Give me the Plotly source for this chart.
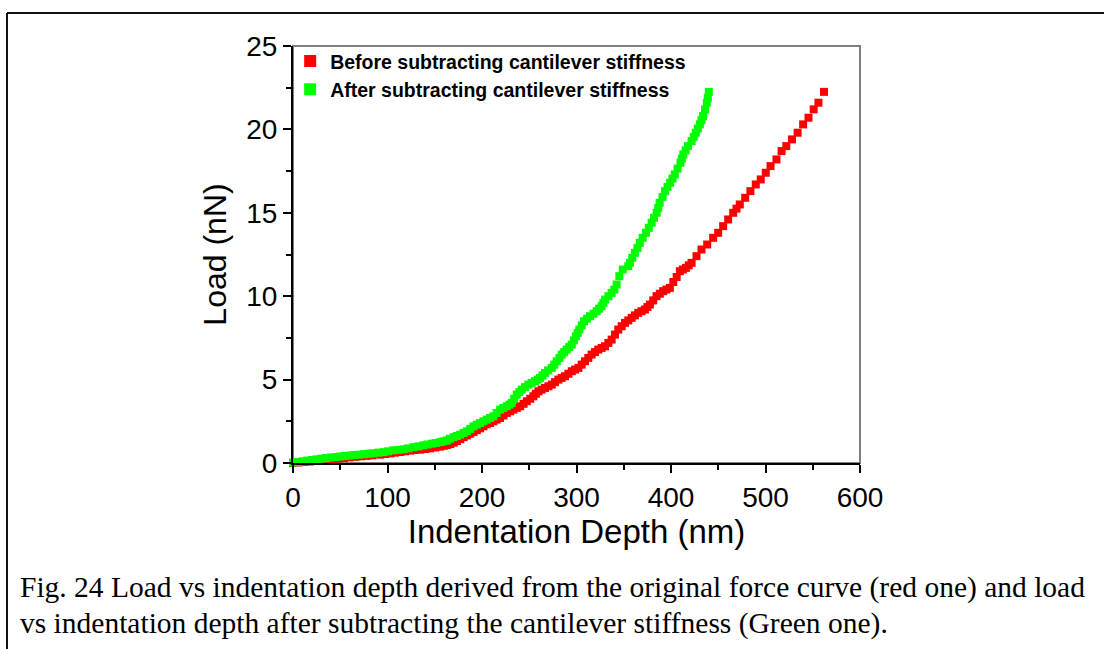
import plotly.graph_objects as go

# ---- data ----
before_x = [0, 6, 12, 18, 24, 30, 36, 42, 48, 54, 60, 66, 72, 78, 84, 92.3, 97.5, 103, 108, 113.4,
            118.5, 124, 129, 134.6, 140, 145, 150.5, 155.7, 159.5, 163, 166.5, 170, 173.5, 177, 180.5,
            184, 187.5, 191, 194.5, 198, 201.5, 205, 208.5, 212, 215.5, 219.1, 222.7, 226.3, 229.8,
            233.3, 236.8, 240.4, 244, 247.4, 251, 254.4, 257, 259.7, 263.2, 266.7, 270.3, 273.9, 277.3,
            280.8, 284.3, 287.8, 291.4, 295, 298.5, 302, 305.5, 309, 312.5, 316, 319.5, 323, 326.6,
            330.2, 333.7, 337.2, 340.7, 344.2, 347.8, 351.3, 354.8, 358.4, 361.8, 365.3, 368.8, 372.4,
            375, 377.7, 381.2, 384.7, 388.2, 391.7, 395.2, 398.8, 402.4, 406, 409.4, 412.6, 415.8, 418.8,
            421.8, 427, 432.3, 438.3, 444.6, 449.9, 455.2, 460.5, 465.8, 469.3, 472.8, 478.5, 484,
            489.7, 495, 500.3, 505.3, 511.6, 517, 522, 528, 534, 539.8, 545.5, 551, 556, 561.9]
before_y = [0.0, 0.03, 0.06, 0.09, 0.12, 0.15, 0.18, 0.22, 0.26, 0.3, 0.34, 0.37, 0.4, 0.43, 0.46, 0.5,
            0.54, 0.58, 0.62, 0.66, 0.7, 0.74, 0.78, 0.8, 0.84, 0.88, 0.93, 0.98, 1.03, 1.08, 1.14, 1.22,
            1.32, 1.43, 1.55, 1.65, 1.75, 1.86, 1.97, 2.08, 2.2, 2.32, 2.4, 2.5, 2.6, 2.7, 2.85, 3.0,
            3.1, 3.2, 3.3, 3.4, 3.55, 3.7, 3.85, 4.0, 4.15, 4.3, 4.4, 4.5, 4.6, 4.7, 4.85, 5.0, 5.1,
            5.2, 5.35, 5.5, 5.6, 5.7, 5.9, 6.1, 6.3, 6.5, 6.65, 6.8, 6.9, 7.0, 7.2, 7.4, 7.7, 8.0, 8.2,
            8.4, 8.55, 8.7, 8.85, 9.0, 9.1, 9.2, 9.35, 9.5, 9.75, 10.0, 10.15, 10.3, 10.4, 10.5, 10.85,
            11.15, 11.5, 11.6, 11.7, 11.85, 12.0, 12.4, 12.8, 13.1, 13.5, 13.8, 14.2, 14.6, 15.0, 15.25,
            15.5, 15.9, 16.3, 16.7, 17.0, 17.4, 17.8, 18.2, 18.7, 19.0, 19.4, 19.8, 20.3, 20.7, 21.2,
            21.6, 22.25]

after_x = [0, 5, 10, 15, 20, 25, 30, 35, 40, 45, 50, 55, 60, 65, 70, 75, 80, 85, 90, 95.8, 100.5,
           106.3, 111.5, 117, 122, 127.5, 133, 138, 142.5, 147, 151, 155.7, 159, 162.8, 166, 170,
           173.5, 176.9, 180.5, 184, 187.5, 191, 194.5, 198, 201.5, 205, 208.5, 212, 215.5, 219.2,
           222.5, 226.2, 229, 231.5, 234, 236.8, 239.5, 242.1, 245.5, 249.1, 252.5, 256.1, 259, 261.4,
           264, 266.7, 270, 273.8, 276.5, 279.1, 282, 284.4, 287, 289.6, 292.3, 295, 297.3, 299.5,
           301.3, 303, 305.5, 308, 311, 314.3, 318, 321.4, 324, 326.6, 328.4, 330.2, 333.7, 337.2, 340,
           342.5, 345.3, 349, 354.8, 356.6, 359, 361.8, 364.5, 367, 370, 373.5, 376.5, 379.5, 382,
           384.8, 386.5, 388, 391, 393.6, 396.3, 399, 401.5, 404, 407, 410, 411.5, 413, 415.5, 418,
           421.8, 424, 426.3, 428.4, 430.5, 432.2, 434, 436, 437.9, 439, 440]
after_y = [0.02, 0.06, 0.1, 0.14, 0.18, 0.22, 0.26, 0.29, 0.33, 0.36, 0.39, 0.42, 0.45, 0.48, 0.5,
           0.53, 0.56, 0.58, 0.62, 0.65, 0.7, 0.76, 0.79, 0.82, 0.88, 0.95, 1.0, 1.06, 1.11, 1.16, 1.2,
           1.25, 1.3, 1.35, 1.45, 1.55, 1.62, 1.7, 1.8, 1.9, 2.05, 2.2, 2.3, 2.4, 2.5, 2.6, 2.7, 2.8,
           3.0, 3.2, 3.3, 3.4, 3.5, 3.6, 3.85, 4.1, 4.25, 4.4, 4.55, 4.7, 4.8, 4.9, 5.0, 5.1, 5.25, 5.4,
           5.55, 5.7, 5.9, 6.1, 6.3, 6.5, 6.65, 6.8, 6.95, 7.1, 7.35, 7.6, 7.8, 8.0, 8.25, 8.5, 8.65,
           8.8, 8.95, 9.1, 9.25, 9.4, 9.6, 9.8, 10.0, 10.2, 10.4, 10.7, 11.2, 11.6, 11.8, 12.0, 12.3,
           12.6, 12.9, 13.2, 13.5, 13.8, 14.1, 14.4, 14.7, 15.0, 15.3, 15.6, 15.95, 16.3, 16.55, 16.8,
           17.05, 17.3, 17.65, 18.0, 18.25, 18.5, 18.75, 19.0, 19.3, 19.55, 19.8, 20.05, 20.3, 20.55,
           20.8, 21.2, 21.6, 21.9, 22.25]

series_names = ["Before subtracting cantilever stiffness", "After subtracting cantilever stiffness"]
series_colors = ["#ff0000", "#00ff00"]

x_title = "Indentation Depth (nm)"
y_title = "Load (nN)"
caption_lines = [
    "Fig. 24 Load vs indentation depth derived from the original force curve (red one) and load",
    "vs indentation depth after subtracting the cantilever stiffness (Green one).",
]

# ---- layout geometry (pixels) ----
W, H = 1104, 649
ML, MR, MT, MB = 293, 244, 46, 186
PW, PH = W - ML - MR, H - MT - MB


def px_x(px):
    return (px - ML) / PW


def px_y(py):
    return (H - MB - py) / PH


fig = go.Figure()
for xs, ys, name, col in [(before_x, before_y, series_names[0], series_colors[0]),
                          (after_x, after_y, series_names[1], series_colors[1])]:
    fig.add_trace(go.Scatter(
        x=xs, y=ys, mode="markers", name=name,
        marker=dict(symbol="square", size=8, color=col, line=dict(width=0)),
        cliponaxis=False,
    ))

sans = "Liberation Sans, Arial, sans-serif"
axis_font = dict(family=sans, size=28, color="black")
fig.update_xaxes(
    range=[0, 600], dtick=100, tick0=0, ticks="outside", ticklen=8, tickwidth=2, tickcolor="black",
    showline=True, linecolor="black", linewidth=2, showgrid=False, zeroline=False,
    tickfont=axis_font,
    title=dict(text=x_title, font=dict(family=sans, size=33, color="black"), standoff=4),
    minor=dict(dtick=50, tick0=0, ticks="outside", ticklen=5, tickwidth=2, tickcolor="black", showgrid=False),
)
fig.update_yaxes(
    range=[0, 25], dtick=5, tick0=0, ticks="outside", ticklen=8, tickwidth=2, tickcolor="black",
    showline=True, linecolor="black", linewidth=2, showgrid=False, zeroline=False,
    tickfont=axis_font,
    title=dict(text=y_title, font=dict(family=sans, size=32, color="black"), standoff=10),
    minor=dict(dtick=2.5, tick0=0, ticks="outside", ticklen=5, tickwidth=2, tickcolor="black", showgrid=False),
)

shapes = [
    # gray frame on top/right of the plot area
    dict(type="rect", xref="paper", yref="paper", x0=0, y0=0, x1=1, y1=1,
         line=dict(color="#7f7f7f", width=2), layer="below"),
    # outer page border (left and top edges visible)
    dict(type="line", xref="paper", yref="paper", x0=px_x(7), x1=px_x(7), y0=px_y(13), y1=px_y(660),
         line=dict(color="#111111", width=2)),
    dict(type="line", xref="paper", yref="paper", x0=px_x(7), x1=px_x(1120), y0=px_y(13), y1=px_y(13),
         line=dict(color="#111111", width=2)),
]

annotations = []
for i, line in enumerate(caption_lines):
    annotations.append(dict(
        text=line, xref="paper", yref="paper", x=px_x(18), y=px_y(587 + 36 * i),
        xanchor="left", yanchor="middle", showarrow=False, align="left",
        font=dict(family="Liberation Serif, Times New Roman, serif", size=29.5, color="black"),
    ))

fig.update_layout(
    width=W, height=H, margin=dict(l=ML, r=MR, t=MT, b=MB, pad=0),
    paper_bgcolor="white", plot_bgcolor="white",
    showlegend=True,
    legend=dict(x=-0.005, y=1.01, xanchor="left", yanchor="top", bgcolor="rgba(0,0,0,0)",
                font=dict(family=sans, size=19.5, color="black", weight="bold"),
                tracegroupgap=0, itemsizing="constant"),
    shapes=shapes, annotations=annotations,
)

fig.write_html("out.html")
